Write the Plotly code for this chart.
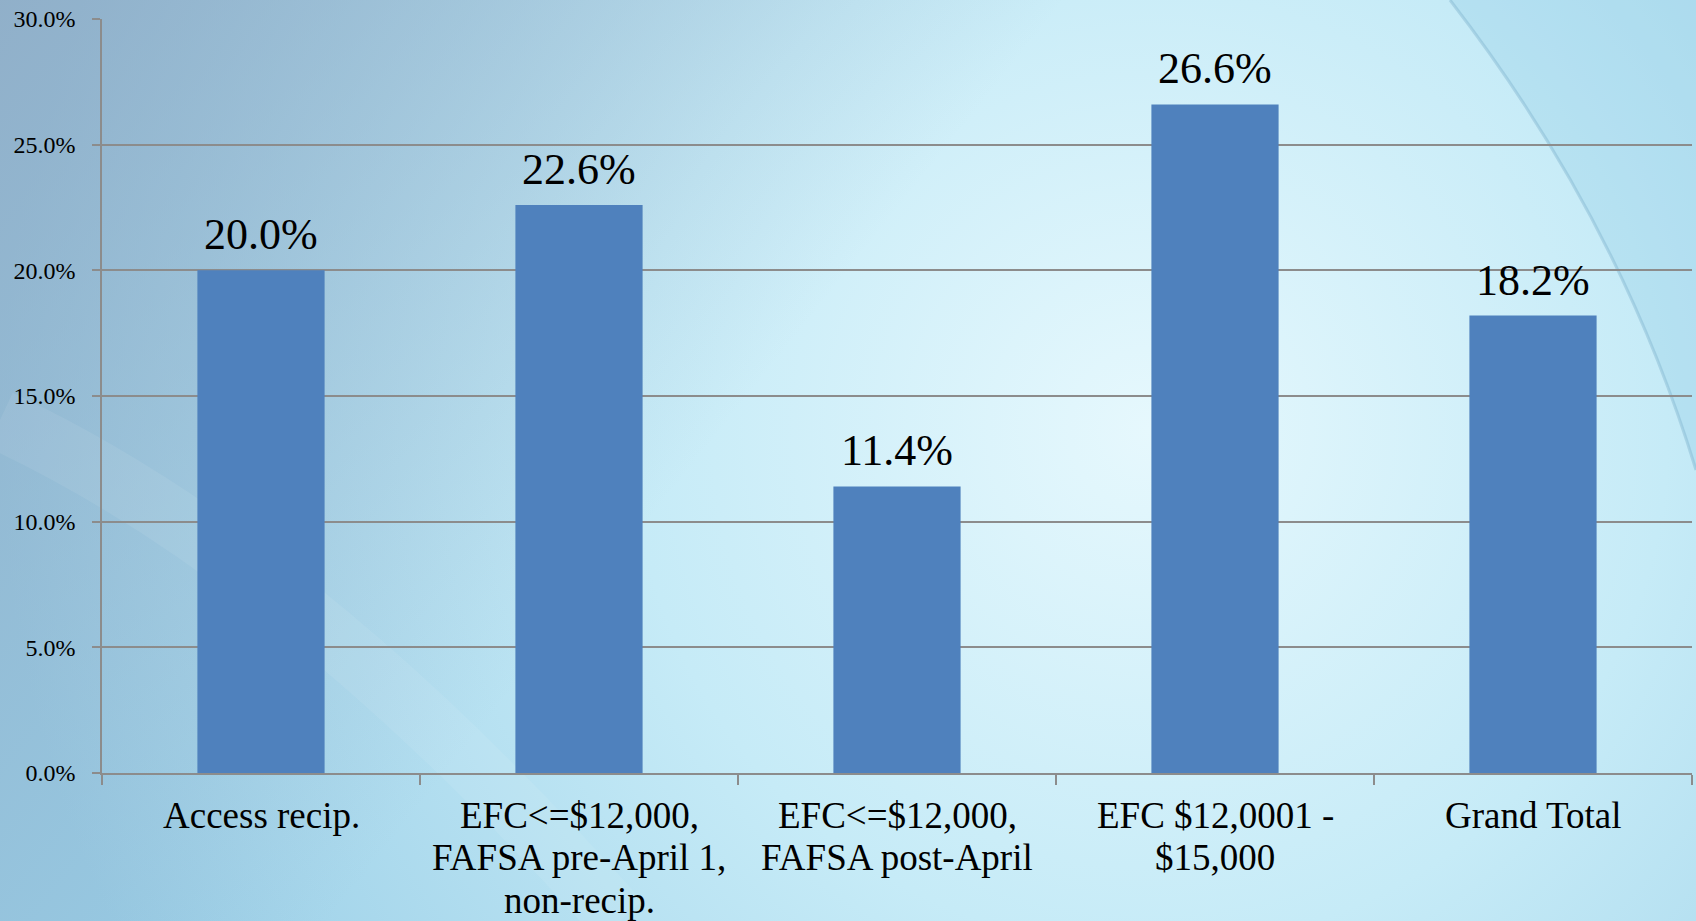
import base64
import plotly.graph_objects as go

# ---- data ----
categories = ["Access recip.", "EFC<=$12,000, pre-April", "EFC<=$12,000, post-April",
              "EFC $12,0001 - $15,000", "Grand Total"]
category_lines = [
    ["Access recip."],
    ["EFC&lt;=$12,000,", "FAFSA pre-April 1,", "non-recip."],
    ["EFC&lt;=$12,000,", "FAFSA post-April"],
    ["EFC $12,0001 -", "$15,000"],
    ["Grand Total"],
]
values = [20.0, 22.6, 11.4, 26.6, 18.2]
y_ticks = [0, 5, 10, 15, 20, 25, 30]

W, H = 1696, 921
ML, MR, MT, MB = 102, 4, 19, 148
FONT = "Liberation Serif"

svg = f"""<svg xmlns='http://www.w3.org/2000/svg' width='{W}' height='{H}' viewBox='0 0 {W} {H}'>
<defs>
<radialGradient id='g' cx='1150' cy='430' r='1150' gradientUnits='userSpaceOnUse'>
<stop offset='0' stop-color='#e6f8fd'/>
<stop offset='0.45' stop-color='#c6ebf7'/>
<stop offset='1' stop-color='#98cde6'/>
</radialGradient>
<linearGradient id='tl' x1='0' y1='0' x2='650' y2='520' gradientUnits='userSpaceOnUse'>
<stop offset='0' stop-color='#8ea6c0' stop-opacity='0.75'/>
<stop offset='1' stop-color='#8ea6c0' stop-opacity='0'/>
</linearGradient>
</defs>
<rect width='{W}' height='{H}' fill='url(#g)'/>
<rect width='{W}' height='{H}' fill='url(#tl)'/>
<path d='M1450 0 Q1620 220 1696 470 L1696 0 Z' fill='#8fcbe6' fill-opacity='0.3'/>
<path d='M1450 0 Q1620 220 1696 470' stroke='#7aaecb' stroke-opacity='0.4' stroke-width='3' fill='none'/>
<path d='M0 420 Q300 560 620 921' stroke='#ffffff' stroke-opacity='0.07' stroke-width='60' fill='none'/>
</svg>"""
src = "data:image/svg+xml;base64," + base64.b64encode(svg.encode()).decode()

pw = W - ML - MR
ph = H - MT - MB

fig = go.Figure()
fig.add_trace(go.Bar(
    x=categories, y=values,
    marker=dict(color="#4F81BD", line=dict(width=0)),
    width=0.4, hoverinfo="x+y",
))

annotations = []
for c, v in zip(categories, values):
    annotations.append(dict(
        x=c, y=v, xref="x", yref="y", text=f"{v:.1f}%", showarrow=False,
        yanchor="bottom", yshift=9, font=dict(family=FONT, size=44, color="black"),
    ))
for c, lines in zip(categories, category_lines):
    for i, line in enumerate(lines):
        annotations.append(dict(
            x=c, y=0, xref="x", yref="paper", text=line, showarrow=False,
            yanchor="middle", yshift=-(42 + 42.5 * i),
            font=dict(family=FONT, size=37, color="black"),
        ))

fig.update_layout(
    width=W, height=H, autosize=False,
    margin=dict(l=ML, r=MR, t=MT, b=MB, pad=0),
    paper_bgcolor="#c6ebf7", plot_bgcolor="rgba(0,0,0,0)",
    showlegend=False, bargap=0.6,
    font=dict(family=FONT),
    annotations=annotations,
    images=[dict(source=src, xref="paper", yref="paper",
                 x=-ML / pw, y=1 + MT / ph, sizex=W / pw, sizey=H / ph,
                 xanchor="left", yanchor="top", sizing="stretch", layer="below")],
    xaxis=dict(
        type="category", showticklabels=False, tickson="boundaries",
        ticks="outside", ticklen=10, tickcolor="#8c8c8c", tickwidth=1.5,
        showline=True, linecolor="#8c8c8c", linewidth=1.5, showgrid=False,
    ),
    yaxis=dict(
        range=[0, 30], tickvals=y_ticks, ticktext=[f"{t:.1f}%" for t in y_ticks],
        ticks="outside", ticklen=8, tickcolor="#8c8c8c", tickwidth=1.5,
        showline=True, linecolor="#8c8c8c", linewidth=1.5,
        showgrid=True, gridcolor="#8c8c8c", gridwidth=1.5, zeroline=False,
        tickfont=dict(family=FONT, size=24, color="black"), ticklabelstandoff=12,
    ),
)

fig.write_html("out.html", config={"displayModeBar": False},
               post_script="document.body.style.margin='0';document.body.style.overflow='hidden';")
